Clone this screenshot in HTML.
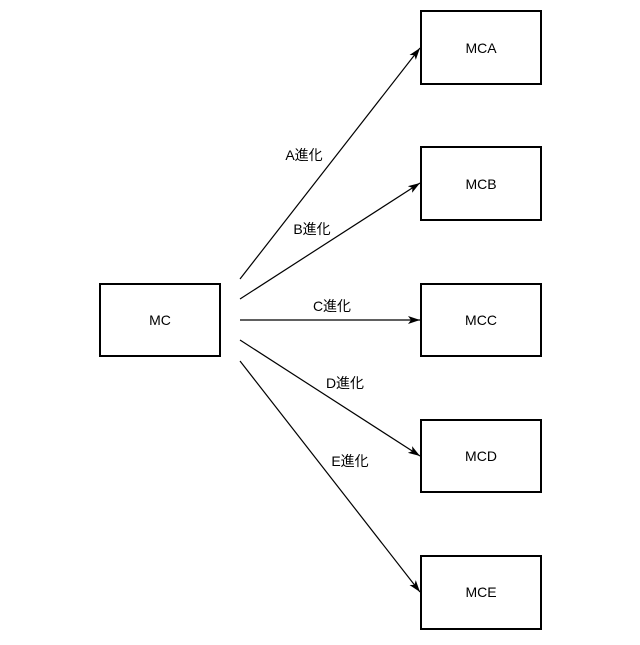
<!DOCTYPE html>
<html><head><meta charset="utf-8"><style>
html,body{margin:0;padding:0;background:#fff;}
svg text{font-family:"Liberation Sans","Noto Sans CJK JP",sans-serif;font-size:14px;fill:#000;}
</style></head><body>
<svg width="640" height="640" viewBox="0 0 640 640" xmlns="http://www.w3.org/2000/svg">
<defs><marker id="a" markerWidth="12" markerHeight="8" refX="12" refY="4" orient="auto" markerUnits="userSpaceOnUse"><path d="M0,0 L12,4 L0,8 L3,4 z" fill="#000"/></marker></defs>
<g fill="#fff" stroke="#000" stroke-width="2">
<rect x="100" y="284" width="120" height="72"/>
<rect x="421" y="11" width="120" height="73"/>
<rect x="421" y="147" width="120" height="73"/>
<rect x="421" y="284" width="120" height="72"/>
<rect x="421" y="420" width="120" height="72"/>
<rect x="421" y="556" width="120" height="73"/>
</g>
<g stroke="#000" stroke-width="1.2" fill="none" marker-end="url(#a)">
<line x1="240" y1="279" x2="420" y2="48"/>
<line x1="240" y1="299" x2="420" y2="183"/>
<line x1="240" y1="320" x2="420" y2="320"/>
<line x1="240" y1="340" x2="420" y2="456"/>
<line x1="240" y1="361" x2="420" y2="592"/>
</g>
<g text-anchor="middle">
<text x="160" y="325">MC</text>
<text x="481" y="53">MCA</text>
<text x="481" y="189">MCB</text>
<text x="481" y="325">MCC</text>
<text x="481" y="461">MCD</text>
<text x="481" y="597">MCE</text>
<text x="304" y="160">A進化</text>
<text x="312" y="234">B進化</text>
<text x="332" y="311">C進化</text>
<text x="345" y="388">D進化</text>
<text x="350" y="466">E進化</text>
</g>
</svg>
</body></html>
